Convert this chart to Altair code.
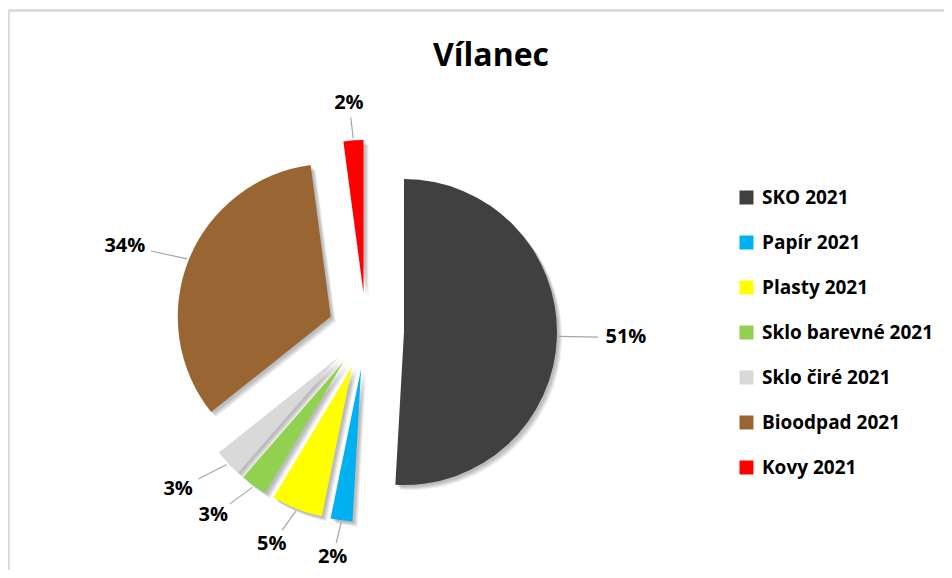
import altair as alt
import pandas as pd

categories = ["SKO 2021", "Papír 2021", "Plasty 2021", "Sklo barevné 2021",
              "Sklo čiré 2021", "Bioodpad 2021", "Kovy 2021"]
values = [50.9, 2.3, 5.4, 2.8, 2.9, 33.6, 2.1]
colors = ["#404040", "#00B0F0", "#FFFF00", "#92D050", "#D9D9D9", "#996633", "#FF0000"]

df = pd.DataFrame({"kategorie": categories, "hodnota": values,
                   "poradi": list(range(len(categories)))})

W, H = 936, 560
CX, CY = 358, 321      # pie centre in plot pixels
EXPLODE = 38           # explode distance
R = 153                # slice radius
LEAD_A = R + EXPLODE + 2
LAB_RX, LAB_RY = 260, 228   # label ellipse
LEAD_BX, LEAD_BY = LAB_RX - 28, LAB_RY - 14

base = (
    alt.Chart(df)
    .transform_joinaggregate(total="sum(hodnota)")
    .transform_window(cum="sum(hodnota)", sort=[alt.SortField("poradi")], frame=[None, 0])
    .transform_calculate(start="2*PI*(datum.cum - datum.hodnota)/datum.total")
    .transform_calculate(end="2*PI*datum.cum/datum.total")
    .transform_calculate(mid="(datum.start + datum.end)/2")
    .transform_calculate(pct="datum.hodnota/datum.total")
    .transform_calculate(cx=f"{CX} + {EXPLODE}*sin(datum.mid)")
    .transform_calculate(cy=f"{CY} - {EXPLODE}*cos(datum.mid)")
    .transform_calculate(ax=f"{CX} + {LEAD_A}*sin(datum.mid)")
    .transform_calculate(ay=f"{CY} - {LEAD_A}*cos(datum.mid)")
    .transform_calculate(bx=f"{CX} + {LEAD_BX}*sin(datum.mid)")
    .transform_calculate(by=f"{CY} - {LEAD_BY}*cos(datum.mid)")
    .transform_calculate(lx=f"{CX} + {LAB_RX}*sin(datum.mid)")
    .transform_calculate(ly=f"{CY} - {LAB_RY}*cos(datum.mid)")
)

pos = dict(
    theta=alt.Theta("start:Q", scale=None),
    theta2="end:Q",
    x=alt.X("cx:Q", scale=None, axis=None),
    y=alt.Y("cy:Q", scale=None, axis=None),
)

shadows = [
    base.mark_arc(radius=R, color="#000000", opacity=0.07, xOffset=k, yOffset=k).encode(**pos)
    for k in (2, 3, 4, 5)
]

slices = base.mark_arc(radius=R).encode(
    **pos,
    color=alt.Color(
        "kategorie:N",
        scale=alt.Scale(domain=categories, range=colors),
        legend=alt.Legend(
            title=None, orient="none", legendX=729, legendY=178,
            symbolType="square", symbolSize=196, symbolStrokeWidth=0,
            labelFont="Open Sans", labelFontSize=19, labelFontWeight="bold",
            labelColor="#000000", labelOffset=6, rowPadding=25, labelLimit=300,
            padding=0,
        ),
    ),
)

leaders = base.mark_rule(color="#A6A6A6", strokeWidth=1.2).encode(
    x=alt.X("ax:Q", scale=None, axis=None),
    y=alt.Y("ay:Q", scale=None, axis=None),
    x2="bx:Q",
    y2="by:Q",
)

labels = base.mark_text(font="Open Sans", fontSize=20, fontWeight="bold",
                        color="#000000", align="center", baseline="middle").encode(
    x=alt.X("lx:Q", scale=None, axis=None),
    y=alt.Y("ly:Q", scale=None, axis=None),
    text=alt.Text("pct:Q", format=".0%"),
)

border_top = alt.Chart(df).mark_rule(color="#D9D9D9", strokeWidth=1.5).encode(
    x=alt.value(0), x2=alt.value(W), y=alt.value(0.5))
border_left = alt.Chart(df).mark_rule(color="#D9D9D9", strokeWidth=1.5).encode(
    x=alt.value(0.5), y=alt.value(0), y2=alt.value(H))

chart = alt.layer(border_top, border_left, *shadows, slices, leaders, labels).properties(
    width=W, height=H,
    autosize=alt.AutoSizeParams(type="none"),
    padding={"left": 0, "top": 2, "right": 0, "bottom": 0},
    title=alt.TitleParams("Vílanec", font="Open Sans", fontSize=32, fontWeight="bold",
                          color="#000000", anchor="middle", offset=-64, dx=15),
).configure_view(stroke=None)

chart.save("out.html", embed_options={"renderer": "svg", "actions": False})
